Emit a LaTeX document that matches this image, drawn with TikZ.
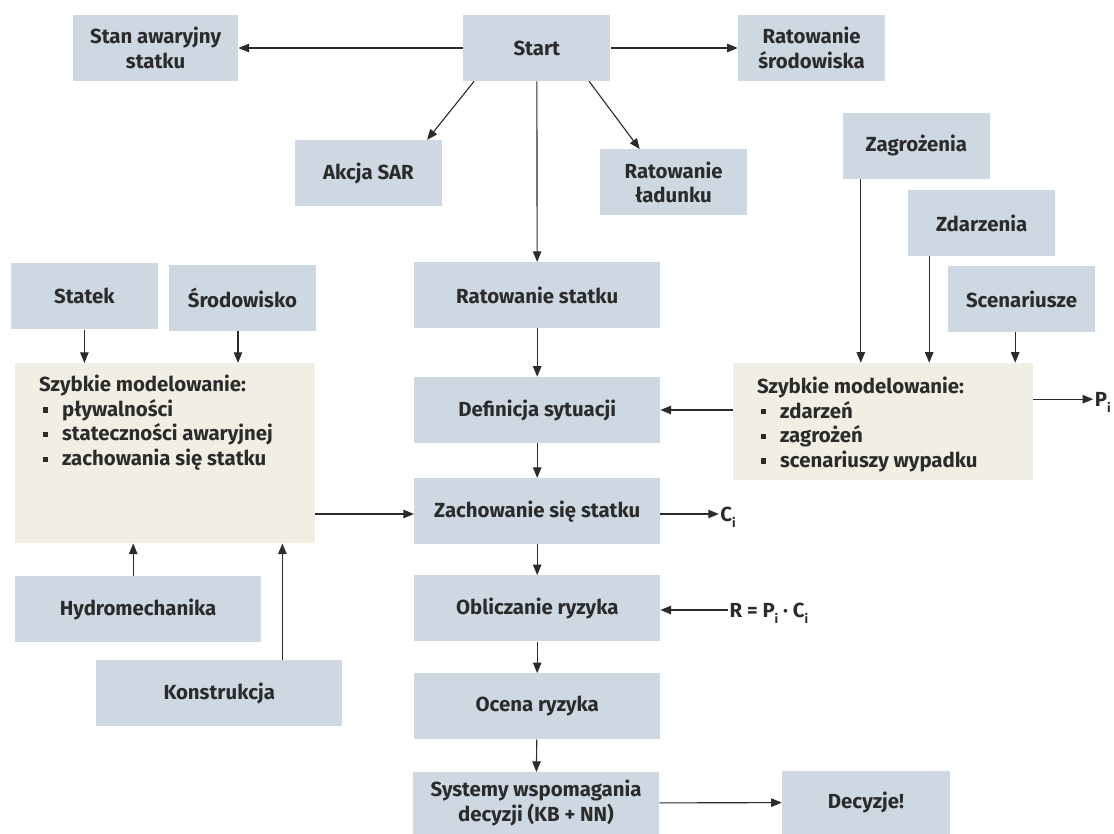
\documentclass[tikz,border=0pt]{standalone}
\usepackage{fontspec}
\setmainfont{Fira Sans}
\usepackage{tikz}
\usetikzlibrary{arrows.meta}

\definecolor{boxblue}{HTML}{CDD8E2}
\definecolor{boxbeige}{HTML}{F1EEE4}
\definecolor{inkgray}{HTML}{2B2B2B}
\newcommand{\subi}{\raisebox{-0.55ex}{\fontsize{9}{9}\selectfont i}}
\newcommand{\sqitem}{\makebox[16.3pt][l]{\hspace{2.8pt}\rule[0.35ex]{3.6pt}{3.6pt}}}

\begin{document}
\begin{tikzpicture}[
  % Node Styles
  bluebox/.style={rectangle, fill=boxblue, text=inkgray, minimum height=1.65cm, minimum width=3.68cm, align=center, inner sep=2pt},
  widebox/.style={bluebox, minimum width=6.15cm},
  beigebox/.style={rectangle, fill=boxbeige, minimum width=7.5cm},
  listtext/.style={anchor=north west, inner sep=0pt, align=left, text=inkgray},
  symtext/.style={anchor=west, inner sep=1pt, text depth=0pt, text=inkgray},
  % Arrow Styles
  arr/.style={-{Triangle[length=7.5pt,width=6pt]}, line width=0.8pt, draw=inkgray},
]
\tikzset{font=\fontsize{14.5}{17.5}\selectfont\bfseries}
\useasboundingbox (0,0) rectangle (27.85,-20.85);

% Top row
\node[bluebox] (Start) at (13.42,-1.20) {Start};
\node[bluebox, minimum width=4.13cm] (StanAwaryjny) at (3.89,-1.20) {Stan awaryjny\\statku};
\node[bluebox] (RatSrodowiska) at (20.29,-1.20) {Ratowanie\\środowiska};
\node[bluebox] (AkcjaSAR) at (9.21,-4.33) {Akcja SAR};
\node[bluebox] (RatLadunku) at (16.84,-4.56) {Ratowanie\\ładunku};

% Main column
\node[widebox] (RatStatku) at (13.43,-7.38) {Ratowanie statku};
\node[widebox] (Definicja) at (13.43,-10.25) {Definicja sytuacji};
\node[widebox] (Zachowanie) at (13.43,-12.78) {Zachowanie się statku};
\node[widebox] (Obliczanie) at (13.43,-15.21) {Obliczanie ryzyka};
\node[widebox] (Ocena) at (13.43,-17.66) {Ocena ryzyka};
\node[widebox, minimum height=1.55cm] (Systemy) at (13.40,-20.08) {Systemy wspomagania\\decyzji (KB + NN)};
\node[bluebox, minimum width=4.2cm, minimum height=1.58cm] (Decyzje) at (21.65,-20.06) {Decyzje!};

% Left side
\node[bluebox] (Statek) at (2.11,-7.41) {Statek};
\node[bluebox] (Srodowisko) at (6.06,-7.44) {Środowisko};
\node[beigebox, minimum height=4.5cm] (ModelL) at (4.13,-11.33) {};
\node[listtext] (ModelLText) at ([xshift=0.6cm, yshift=-0.3cm]ModelL.north west)
  {Szybkie modelowanie:\\\sqitem pływalności\\\sqitem stateczności awaryjnej\\\sqitem zachowania się statku};
\node[widebox] (Hydro) at (3.45,-15.23) {Hydromechanika};
\node[widebox] (Konstrukcja) at (5.48,-17.33) {Konstrukcja};

% Right side
\node[bluebox] (Zagrozenia) at (22.91,-3.65) {Zagrożenia};
\node[bluebox] (Zdarzenia) at (24.54,-5.58) {Zdarzenia};
\node[bluebox] (Scenariusze) at (25.54,-7.48) {Scenariusze};
\node[beigebox, minimum height=2.93cm] (ModelR) at (22.08,-10.54) {};
\node[listtext] (ModelRText) at ([xshift=0.6cm, yshift=-0.35cm]ModelR.north west)
  {Szybkie modelowanie:\\\sqitem zdarzeń\\\sqitem zagrożeń\\\sqitem scenariuszy wypadku};

% Symbols
\node[symtext] (Pi) at (27.33,-9.98) {P\subi};
\node[symtext] (Ci) at (17.97,-12.85) {C\subi};
\node[symtext] (Rformula) at (18.20,-15.25) {R = P\subi{} · C\subi};

% Connectors
\draw[arr] (Start) -- (StanAwaryjny);
\draw[arr] (Start) -- (RatSrodowiska);
\draw[arr] ([xshift=0.28cm]Start.south west) -- ([xshift=-0.38cm]AkcjaSAR.north east);
\draw[arr] ([xshift=-0.54cm]Start.south east) -- ([xshift=1.0cm]RatLadunku.north west);
\draw[arr] (Start) -- (RatStatku);
\draw[arr] (RatStatku) -- (Definicja);
\draw[arr] (Definicja) -- (Zachowanie);
\draw[arr] (Zachowanie) -- (Obliczanie);
\draw[arr] (Obliczanie) -- (Ocena);
\draw[arr] (Ocena) -- (Systemy);
\draw[arr] (Systemy) -- (Decyzje);

\draw[arr] (Statek.south) -- (Statek.south |- ModelL.north);
\draw[arr] ([xshift=-0.11cm]Srodowisko.south) -- ([xshift=-0.11cm]Srodowisko.south |- ModelL.north);
\draw[arr] ([xshift=-0.12cm]Hydro.north) -- ([xshift=-0.12cm]Hydro.north |- ModelL.south);
\draw[arr] ([xshift=1.58cm]Konstrukcja.north) -- ([xshift=1.58cm]Konstrukcja.north |- ModelL.south);
\draw[arr] (ModelL.east |- Ci.west) -- (Zachowanie.west |- Ci.west);

\draw[arr] ([xshift=-1.39cm]Zagrozenia.south) -- ([xshift=-1.39cm]Zagrozenia.south |- ModelR.north);
\draw[arr] ([xshift=-1.31cm]Zdarzenia.south) -- ([xshift=-1.31cm]Zdarzenia.south |- ModelR.north);
\draw[arr] ([xshift=-0.16cm]Scenariusze.south) -- ([xshift=-0.16cm]Scenariusze.south |- ModelR.north);
\draw[arr] (ModelR.west |- Definicja) -- (Definicja.east);
\draw[arr] (ModelR.east |- Pi.west) -- (Pi.west);

\draw[arr] (Zachowanie.east |- Ci.west) -- (Ci.west);
\draw[arr] (Rformula.west) -- (Obliczanie.east |- Rformula.west);

\end{tikzpicture}
\end{document}
